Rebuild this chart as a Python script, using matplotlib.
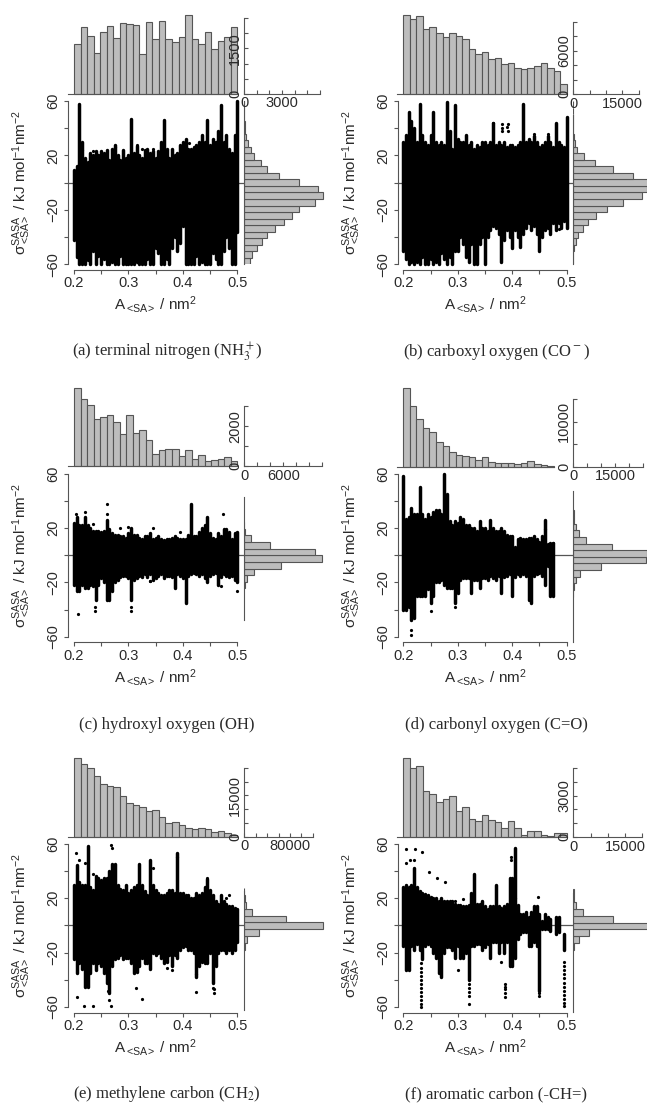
import numpy as np
import matplotlib
matplotlib.use("Agg")
import matplotlib.pyplot as plt

plt.rcParams['font.family'] = ['Liberation Sans', 'DejaVu Sans']
plt.rcParams['mathtext.fontset'] = 'custom'
plt.rcParams['mathtext.rm'] = 'Liberation Sans'
plt.rcParams['mathtext.it'] = 'Liberation Sans'
plt.rcParams['mathtext.bf'] = 'Liberation Sans'
plt.rcParams['mathtext.default'] = 'rm'

W, H = 647, 1104
DARK = "#2a2a2a"
AXIS = "#555555"
BAR = "#bdbdbd"

# area columns for the dense black clouds
area = [0.200, 0.205, 0.210, 0.215, 0.220, 0.225, 0.230, 0.235, 0.240, 0.245, 0.250, 0.255, 0.260, 0.265, 0.270, 0.275,
        0.280, 0.285, 0.290, 0.295, 0.300, 0.305, 0.310, 0.315, 0.320, 0.325, 0.330, 0.335, 0.340, 0.345, 0.350, 0.355,
        0.360, 0.365, 0.370, 0.375, 0.380, 0.385, 0.390, 0.395, 0.400, 0.405, 0.410, 0.415, 0.420, 0.425, 0.430, 0.435,
        0.440, 0.445, 0.450, 0.455, 0.460, 0.465, 0.470, 0.475, 0.480, 0.485, 0.490, 0.495, 0.500]
nan = float("nan")

# (a) terminal nitrogen
top_a = [1650, 2220, 1900, 1360, 2030, 2240, 1850, 2330, 2320, 2260, 1320, 2370, 1820, 2390, 1800, 1720, 1870, 2600, 1820, 1650, 2030, 1470, 1750, 1870, 2220]
side_a = [424, 636, 980, 1380, 1830, 2460, 3180, 3760, 4370, 5590, 6280, 5830, 4370, 2780, 1830, 1300, 800, 500, 290, 130, 50, 30, 10, 5, 0]
hi_a = [9, 12, 58, 30, 18, 15, 22, 20, 23, 20, 23, 22, 24, 17, 25, 28, 20, 17, 24, 18, 20, 47, 22, 27, 20, 18, 24, 25, 22, 23, 18, 23,
        30, 46, 25, 18, 25, 20, 22, 28, 30, 32, 25, 25, 26, 28, 30, 35, 30, 46, 28, 32, 30, 38, 57, 30, 35, 25, 22, 35, 60]
lo_a = [-42, -55, -60, -60, -60, -57, -60, -50, -60, -54, -60, -56, -60, -60, -58, -60, -60, -54, -60, -60, -60, -60, -60, -58, -60, -60, -60, -56, -60, -60, -48, -52,
        -60, -60, -56, -60, -48, -40, -50, -44, -32, -60, -60, -60, -60, -54, -60, -58, -60, -60, -60, -52, -56, -60, -60, -50, -40, -48, -60, -60, -36]
out_xa = [0.215, 0.235, 0.245, 0.275, 0.315, 0.325, 0.412, 0.42, 0.435, 0.46, 0.498, 0.49, 0.345]
out_ya = [24, 23, 20, 26, 28, 25, 29, 21, 24, 30, -32, -33, 25]

# (b) carboxyl oxygen
top_b = [10920, 10370, 10780, 8990, 9270, 8440, 7890, 8400, 7990, 7570, 6290, 5510, 5780, 4820, 5000, 4130, 4360, 3580, 3490, 3670, 3900, 4270, 3670, 3210, 1470]
side_b = [0, 50, 300, 710, 1530, 2860, 4590, 6830, 10200, 15300, 21100, 22540, 23500, 18160, 12040, 6630, 3160, 1220, 510, 150, 50, 10, 0, 0, 0]
hi_b = [30, 35, 52, 45, 40, 30, 58, 35, 30, 28, 35, 52, 30, 28, 30, 28, 59, 38, 25, 57, 32, 30, 30, 35, 28, 30, 25, 28, 26, 30, 30, 28,
        30, 44, 28, 30, 28, 30, 26, 28, 28, 26, 28, 30, 58, 30, 32, 30, 34, 30, 26, 28, 30, 34, 30, 26, 44, 30, 28, 26, 48]
lo_b = [-50, -56, -60, -58, -60, -58, -60, -55, -60, -60, -56, -60, -58, -60, -52, -56, -60, -55, -60, -50, -50, -40, -45, -55, -58, -45, -60, -60, -45, -40, -60, -40,
        -35, -32, -33, -38, -58, -42, -35, -40, -48, -35, -40, -47, -38, -33, -30, -35, -32, -38, -50, -40, -35, -33, -38, -30, -35, -30, -33, -28, -33]
out_xb = [0.382, 0.382, 0.392, 0.392, 0.365, 0.382, 0.39, 0.485, 0.44, 0.465]
out_yb = [43, 40, 43, 38, 44, 38, 41, -34, 36, 36]

# (c) hydroxyl oxygen
top_c = [3930, 3370, 3070, 2350, 2450, 2570, 2200, 1600, 2550, 1650, 1800, 1300, 620, 800, 850, 850, 520, 830, 370, 580, 250, 320, 370, 480, 270]
side_c = [100, 400, 1480, 5600, 12000, 10950, 3930, 970, 150, 30]
hi_c = [24, 28, 22, 22, 28, 22, 20, 18, 18, 18, 17, 18, 26, 19, 16, 15, 15, 14, 14, 13, 16, 20, 15, 15, 13, 12, 14, 14, 16, 12, 13, 14,
        12, 11, 12, 12, 13, 14, 13, 12, 12, 12, 15, 38, 14, 14, 17, 20, 22, 28, 16, 13, 12, 16, 14, 19, 19, 17, 12, 16, 17]
lo_c = [-22, -26, -26, -22, -24, -24, -22, -23, -33, -22, -17, -20, -33, -33, -26, -20, -18, -16, -15, -15, -17, -33, -18, -17, -15, -16, -14, -16, -14, -18, -17, -15,
        -14, -17, -15, -15, -16, -24, -14, -15, -17, -35, -15, -14, -13, -14, -15, -14, -17, -20, -15, -14, -13, -22, -16, -14, -15, -16, -15, -18, -20]
out_xc = [0.208, 0.239, 0.239, 0.305, 0.305, 0.26, 0.26, 0.204, 0.473, 0.5, 0.22, 0.235, 0.3, 0.345, 0.395, 0.285, 0.34, 0.47, 0.34]
out_yc = [-43, -38, -41, -38, -41, 38, 30, 30, 30, -26, 32, 23, 21, 20, 17, 20, -19, -23, -19]

# (d) carbonyl oxygen
top_d = [17540, 13470, 10660, 8580, 7620, 5480, 4660, 3260, 2520, 2370, 2070, 1410, 2150, 1040, 890, 740, 740, 520, 740, 1260, 590, 370, 150]
side_d = [60, 240, 830, 2260, 9760, 25800, 26300, 13700, 4520, 2020, 830, 360, 100]
hi_d = [58, 27, 28, 35, 30, 30, 50, 30, 27, 30, 28, 32, 33, 33, 30, 60, 45, 25, 22, 25, 24, 28, 27, 22, 22, 20, 20, 18, 25, 20, 20, 18,
        26, 20, 18, 18, 20, 18, 15, 14, 14, 6, 12, 13, 12, 12, 13, 13, 14, 12, 10, 14, 26, 8, 9, 9, nan, nan, nan, nan, nan]
lo_d = [-40, -40, -38, -48, -46, -30, -30, -30, -30, -25, -35, -30, -20, -20, -18, -22, -24, -24, -24, -35, -28, -18, -17, -17, -17, -28, -18, -18, -24, -17, -17, -18,
        -15, -17, -18, -15, -28, -16, -15, -14, -30, -16, -14, -15, -14, -15, -33, -35, -15, -14, -13, -15, -22, -8, -30, -30, nan, nan, nan, nan, nan]
out_xd = [0.215, 0.215, 0.25, 0.295, 0.285, 0.29, 0.315, 0.255, 0.265, 0.46, 0.474]
out_yd = [-55, -59, -41, -38, -21, -23, 19, 27, 32, 19, 9]

# (e) methylene carbon
top_e = [28320, 26160, 24840, 21960, 18960, 18480, 17880, 14880, 12120, 11640, 10680, 9360, 9840, 7080, 4920, 5520, 4320, 3240, 3000, 3120, 2760, 1920, 2160, 1560, 720]
side_e = [1700, 5250, 25000, 138000, 72300, 14000, 3500, 1200, 300]
hi_e = [30, 44, 32, 30, 30, 58, 28, 26, 36, 35, 33, 35, 35, 40, 45, 45, 30, 27, 26, 30, 24, 26, 28, 30, 45, 30, 25, 22, 48, 30, 26, 24,
        22, 22, 24, 26, 26, 24, 53, 24, 24, 22, 22, 20, 20, 24, 22, 24, 28, 34, 26, 22, 18, 16, 22, 18, 16, 14, 14, 13, 12]
lo_e = [-25, -35, -28, -32, -45, -45, -35, -28, -33, -28, -30, -35, -42, -50, -30, -25, -24, -22, -25, -24, -24, -28, -35, -34, -30, -24, -28, -28, -32, -20, -22, -20,
        -24, -28, -27, -22, -30, -22, -24, -18, -16, -15, -18, -18, -20, -38, -30, -27, -28, -28, -20, -42, -30, -20, -18, -18, -20, -18, -20, -18, -12]
out_xe = [0.203, 0.21, 0.22, 0.235, 0.27, 0.268, 0.205, 0.218, 0.235, 0.262, 0.265, 0.268, 0.313, 0.325, 0.425, 0.458, 0.425, 0.455, 0.458, 0.39, 0.345, 0.445, 0.48, 0.485, 0.37, 0.38]
out_ye = [53, 48, 46, 38, 57, 59, -53, -59, -59, -48, -55, -59, -46, -54, -49, -50, -36, -46, -47, 50, 42, 35, 20, 22, -31, -33]

# (f) aromatic carbon
top_f = [5660, 4950, 5140, 3350, 3110, 2530, 2770, 2940, 1860, 2150, 1290, 1150, 1600, 1220, 1080, 650, 1150, 650, 170, 450, 450, 170, 120, 290, 290]
side_f = [200, 1550, 4640, 23000, 11600, 2700, 870, 290, 80]
hi_f = [28, 30, 28, 30, 42, 28, 25, 24, 23, 22, 21, 20, 20, 18, 20, 18, 18, 18, 18, 16, 15, 15, 14, 14, 15, 24, 38, 16, 16, 18, 14, 12,
        14, 14, 30, 14, 13, 14, 16, 35, 35, 57, 15, 8, 8, 10, 6, 10, 14, 14, 8, 3, 8, 6, 5, nan, 6, 6, nan, -6, nan]
lo_f = [-15, -33, -33, -15, -18, -14, -18, -25, -15, -14, -15, -20, -24, -35, -38, -20, -16, -16, -18, -24, -15, -24, -24, -20, -40, -15, -15, -14, -14, -18, -16, -14,
        -24, -12, -12, -20, -12, -20, -12, -30, -30, -24, -10, -6, -5, -5, -15, -15, -12, -15, -48, -3, -3, -3, -4, nan, -6, -5, nan, -18, nan]
out_xf = [0.205, 0.205, 0.222, 0.213, 0.22, 0.235, 0.247, 0.262, 0.277, 0.295, 0.31, 0.233, 0.233, 0.233, 0.233, 0.233, 0.233, 0.233, 0.233, 0.233, 0.233, 0.233, 0.233,
          0.321, 0.321, 0.321, 0.321, 0.321, 0.386, 0.386, 0.386, 0.386, 0.386, 0.495, 0.495, 0.495, 0.495, 0.495, 0.495, 0.495, 0.495, 0.495, 0.495, 0.495, 0.495,
          0.449, 0.449, 0.398, 0.398, 0.447, 0.3, 0.38, 0.405]
out_yf = [56, 46, 56, 48, 48, 54, 39, 35, 32, 18, 19, -28, -31, -34, -37, -40, -43, -46, -49, -52, -55, -58, -60,
          -43, -46, -49, -52, -58, -43, -45, -47, -50, -53, -27, -30, -33, -36, -39, -42, -45, -48, -51, -54, -57, -59,
          -50, -52, 50, 48, 21, -33, -27, 20]

captions = ["(a) terminal nitrogen (NH$_3^+$)", "(b) carboxyl oxygen (CO$^-$)", "(c) hydroxyl oxygen (OH)",
            "(d) carbonyl oxygen (C=O)", "(e) methylene carbon (CH$_2$)", "(f) aromatic carbon (-CH=)"]

# pixel layout of each panel: x at 0.2, x at 0.5, y at 60, y at -60, top hist baseline, side hist zero
layouts = [(74.0, 237.3, 101.0, 264.3, 94.0, 244.3), (403.3, 566.7, 101.0, 264.3, 94.3, 573.3),
           (74.0, 237.3, 473.7, 636.7, 466.3, 244.3), (403.3, 566.7, 473.7, 636.7, 466.7, 573.3),
           (74.0, 237.3, 843.7, 1007.0, 837.0, 244.3), (403.3, 566.7, 843.7, 1007.0, 837.3, 573.3)]
# top hist: tick step, px per tick, number of ticks, labelled values
top_axes = [(500, 15.17, 5, [0, 1500]), (2000, 14.53, 5, [0, 6000]), (1000, 20.0, 3, [0, 2000]),
            (5000, 22.5, 3, [0, 10000]), (5000, 13.87, 5, [0, 15000]), (1000, 13.93, 5, [0, 3000])]
# side hist: tick step, px per tick, number of ticks, labelled values
side_axes = [(1000, 12.57, 6, [0, 3000]), (5000, 16.33, 4, [0, 15000]), (2000, 13.0, 6, [0, 6000]),
             (5000, 14.0, 5, [0, 15000]), (20000, 11.43, 6, [0, 80000]), (5000, 17.23, 4, [0, 15000])]
# side hist bins: first lower edge, bin width, vertical line low and high
side_bins = [(-60, 4.8, -60, 60), (-60, 4.8, -60, 50), (-24.5, 4.9, -48, 43), (-30.6, 4.9, -64, 47), (-17.8, 5.0, -62, 25), (-18.0, 5.0, -64, 24)]

tops = [top_a, top_b, top_c, top_d, top_e, top_f]
sides = [side_a, side_b, side_c, side_d, side_e, side_f]
his = [hi_a, hi_b, hi_c, hi_d, hi_e, hi_f]
los = [lo_a, lo_b, lo_c, lo_d, lo_e, lo_f]
out_xs = [out_xa, out_xb, out_xc, out_xd, out_xe, out_xf]
out_ys = [out_ya, out_yb, out_yc, out_yd, out_ye, out_yf]


def px_axes(fig, left, top, right, bottom):
    ax = fig.add_axes([left / W, 1 - bottom / H, (right - left) / W, (bottom - top) / H])
    ax.patch.set_alpha(0)
    for s in ax.spines.values():
        s.set_visible(False)
    return ax


def draw_panel(fig, i):
    x02, x05, y60, ym60, base, rz = layouts[i]
    per_px = 0.3 / (x05 - x02)

    # main scatter
    ax = px_axes(fig, x02, y60, x05, ym60)
    ax.set_xlim(0.2, 0.5)
    ax.set_ylim(-60, 60)
    ax.plot([0.2 - 5.7 * per_px, 0.5 + (rz - x05) * per_px], [0, 0], color=AXIS, lw=0.9, clip_on=False, zorder=1)
    a = np.array(area)
    hi = np.array(his[i])
    lo = np.array(los[i])
    ok = ~np.isnan(hi)
    ax.vlines(a[ok], lo[ok], hi[ok], color="black", lw=2.5, zorder=2, clip_on=False, capstyle="round")
    ax.plot(out_xs[i], out_ys[i], "o", color="black", ms=2.3, mew=0, zorder=2, clip_on=False)
    for sp in ["left", "bottom"]:
        ax.spines[sp].set_visible(True)
        ax.spines[sp].set_position(("outward", 4.1))
        ax.spines[sp].set_color(AXIS)
        ax.spines[sp].set_linewidth(0.8)
    ax.set_xticks([0.2, 0.25, 0.3, 0.35, 0.4, 0.45, 0.5])
    ax.set_xticklabels(["0.2", "", "0.3", "", "0.4", "", "0.5"], fontsize=10.5, color=DARK)
    ax.set_yticks([-60, -40, -20, 0, 20, 40, 60])
    ax.set_yticklabels(["\u221260", "", "\u221220", "", "20", "", "60"], fontsize=10.5, color=DARK, rotation=90, va="center")
    ax.tick_params(axis="x", length=3, width=0.8, color=AXIS, pad=1.5)
    ax.tick_params(axis="y", length=3, width=0.8, color=AXIS, pad=2.5)
    ax.text((x02 + x05) / 2 / W, 1 - (ym60 + 40.5) / H, r"A$_{\mathrm{{<}\!SA\!{>}}}$ / nm$^2$", transform=fig.transFigure,
            ha="center", va="center", fontsize=11, color=DARK)
    ax.text((x02 - 52) / W, 1 - ((y60 + ym60) / 2) / H, r"$\mathrm{\sigma}^{\mathrm{SASA}}_{\mathrm{{<}\!SA\!{>}}}$ / kJ mol$^{-1}$nm$^{-2}$",
            transform=fig.transFigure, rotation=90, ha="center", va="center", fontsize=11, color=DARK)

    # histogram above
    step, tick_px, n_ticks, labelled = top_axes[i]
    tt = px_axes(fig, x02 - 6, 0, rz, base)
    tt.set_xlim(0.2 - 6 * per_px, 0.2 + (rz - x02) * per_px)
    tt.set_ylim(0, base / tick_px * step)
    bw = 0.012
    lefts = [0.2 + bw * k for k in range(len(tops[i]))]
    tt.bar(lefts, tops[i], width=bw, align="edge", facecolor=BAR, edgecolor=AXIS, lw=0.8, clip_on=False)
    tt.plot([0.2 - 6 * per_px, 0.2 + bw * len(tops[i])], [0, 0], color=AXIS, lw=0.8, clip_on=False)
    tt.spines["right"].set_visible(True)
    tt.spines["right"].set_bounds(0, step * n_ticks)
    tt.spines["right"].set_color(AXIS)
    tt.spines["right"].set_linewidth(0.8)
    tt.set_xticks([])
    tt.yaxis.tick_right()
    tt.set_yticks([step * k for k in range(n_ticks + 1)])
    tt.set_yticklabels([])
    tt.tick_params(axis="y", length=3, width=0.8, color=AXIS)
    for v in labelled:
        tt.annotate(str(v), xy=(1, v), xycoords=("axes fraction", "data"), xytext=(-6.7, 0), textcoords="offset points",
                    rotation=90, ha="center", va="center", fontsize=10.5, color=DARK, annotation_clip=False, zorder=5)

    # histogram at the side
    step, tick_px, n_ticks, labelled = side_axes[i]
    right_edge = rz + min(W - rz, 85)
    sd = px_axes(fig, rz, y60, right_edge, ym60)
    sd.set_xlim(0, (right_edge - rz) / tick_px * step)
    sd.set_ylim(-60, 60)
    start, bh, v_lo, v_hi = side_bins[i]
    bottoms = [start + bh * k for k in range(len(sides[i]))]
    sd.barh(bottoms, sides[i], height=bh, align="edge", facecolor=BAR, edgecolor=AXIS, lw=0.8)
    sd.plot([0, 0], [v_lo, v_hi], color=AXIS, lw=0.8, clip_on=False, zorder=4)
    sd.spines["top"].set_visible(True)
    sd.spines["top"].set_position(("outward", (y60 - base) * 0.72))
    sd.spines["top"].set_bounds(0, step * n_ticks)
    sd.spines["top"].set_color(AXIS)
    sd.spines["top"].set_linewidth(0.8)
    sd.set_yticks([])
    sd.xaxis.tick_top()
    sd.set_xticks([step * k for k in range(n_ticks + 1)])
    sd.set_xticklabels([])
    sd.tick_params(axis="x", length=3, width=0.8, color=AXIS)
    for v in labelled:
        sd.annotate(str(v), xy=(v, 1), xycoords=("data", "axes fraction"), xytext=(0, (y60 - base) * 0.72 - 6.7), textcoords="offset points",
                    ha="center", va="center", fontsize=10.5, color=DARK, annotation_clip=False, zorder=5)

    # caption
    cap_y = [352, 352, 725, 725, 1094, 1094][i]
    cap_x = [167, 496][i % 2]
    fig.text(cap_x / W, 1 - cap_y / H, captions[i], ha="center", va="center", fontsize=12, color=DARK,
             family="Liberation Serif", math_fontfamily="stix")


fig = plt.figure(figsize=(W / 100, H / 100), dpi=100)
for i in range(6):
    draw_panel(fig, i)
fig.savefig("out.png", dpi=100)
